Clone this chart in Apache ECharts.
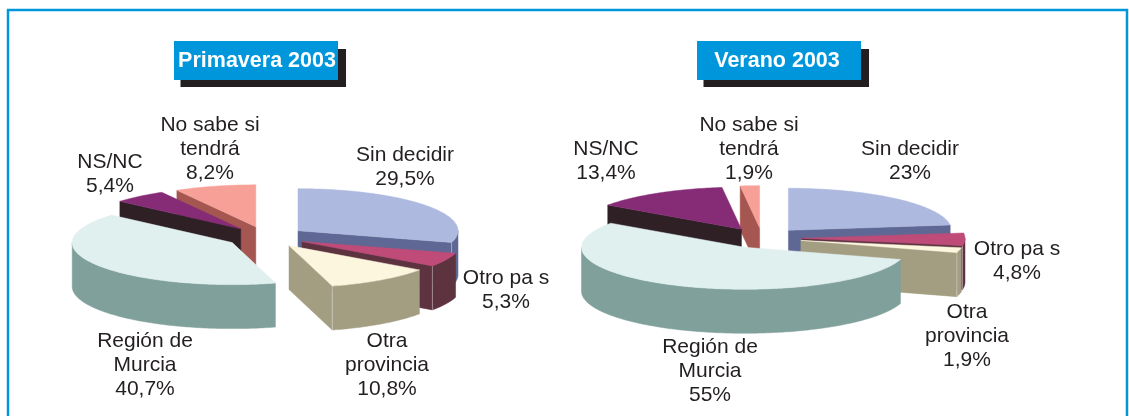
<!DOCTYPE html>
<html>
<head>
<meta charset="utf-8">
<style>html,body{margin:0;padding:0;background:#fff}#chart{width:1129px;height:416px}</style>
<script src="https://cdn.jsdelivr.net/npm/echarts@6/dist/echarts.min.js"></script>
</head>
<body>
<div id="chart"></div>
<script>
// slices in clockwise order starting at twelve o'clock
var categories = ['Sin decidir', 'Otro pa s', 'Otra\nprovincia', 'Región de\nMurcia', 'NS/NC', 'No sabe si\ntendrá'];
var primavera = [29.5, 5.3, 10.8, 40.7, 5.4, 8.2];
var verano = [23, 4.8, 1.9, 55, 13.4, 1.9];

var topColors = ['#adb9de', '#bf4b78', '#fdf6df', '#e0f0ee', '#862c76', '#f7a097'];
var wallColors = ['#5f6894', '#5c333f', '#a39d81', '#80a09c', '#2f2026', '#a65650'];
// painter's order for the slices, back first
var drawOrder = [2, 3, 4, 5, 1, 0];

var pies = [
    {
        name: 'Primavera 2003', values: primavera,
        cx: 266, cy: 237, rx: 160, ry: 42, depth: 44, explode: 40,
        box: [174, 41, 164, 39], titleX: 257,
        labels: [[405, 155], [506, 278], [387, 341], [145, 341], [110, 162], [210, 125]]
    },
    {
        name: 'Verano 2003', values: verano,
        cx: 762, cy: 238, rx: 163, ry: 42, depth: 44, explode: 40,
        box: [697, 41, 164, 39], titleX: 777,
        labels: [[910, 149], [1017, 249], [967, 312], [710, 347], [606, 149], [749, 125]]
    }
];

function labelText(i, values) {
    return categories[i] + '\n' + String(values[i]).replace('.', ',') + '%';
}

function makeRenderItem(pie) {
    var total = pie.values.reduce(function (a, b) { return a + b; }, 0);
    return function (params, api) {
        var i = params.dataIndex;
        var before = 0;
        for (var k = 0; k < i; k++) before += pie.values[k];
        var a1 = before / total * 360;
        var a2 = (before + api.value(0)) / total * 360;
        var mid = (a1 + a2) / 2 * Math.PI / 180;
        var ax = pie.cx + pie.explode * Math.sin(mid);
        var ay = pie.cy - pie.explode * pie.ry / pie.rx * Math.cos(mid);
        var rim = function (deg) {
            var r = deg * Math.PI / 180;
            return [ax + pie.rx * Math.sin(r), ay - pie.ry * Math.cos(r)];
        };
        var down = function (p) { return [p[0], p[1] + pie.depth]; };
        var arc = function (from, to) {
            var pts = [];
            for (var d = from; d < to; d += 1) pts.push(rim(d));
            pts.push(rim(to));
            return pts;
        };
        var base = drawOrder[i] * 10;
        var poly = function (points, fill, z) {
            return { type: 'polygon', z2: base + z, shape: { points: points }, style: { fill: fill, stroke: fill, lineWidth: 0.5 } };
        };
        var children = [];
        // cut faces that look towards the viewer
        if (Math.sin(a1 * Math.PI / 180) < -0.01) {
            children.push(poly([[ax, ay], rim(a1), down(rim(a1)), down([ax, ay])], wallColors[i], 1));
        }
        if (Math.sin(a2 * Math.PI / 180) > 0.01) {
            children.push(poly([[ax, ay], rim(a2), down(rim(a2)), down([ax, ay])], wallColors[i], 1));
        }
        // outer wall, only the front half of the ellipse shows
        var lo = Math.max(a1, 90), hi = Math.min(a2, 270);
        if (lo < hi) {
            var edge = arc(lo, hi);
            children.push(poly(edge.concat(edge.map(down).reverse()), wallColors[i], 2));
            // pale seam where wall and cut face meet
            if (a2 < 180) {
                var c = rim(a2);
                children.push({
                    type: 'line', z2: base + 2.5,
                    shape: { x1: c[0], y1: c[1], x2: c[0], y2: c[1] + pie.depth },
                    style: { stroke: 'rgba(255,255,255,0.4)', lineWidth: 1 }
                });
            }
        }
        children.push(poly([[ax, ay]].concat(arc(a1, a2)), topColors[i], 3));
        var pos = pie.labels[i];
        children.push({
            type: 'text', z2: 1000, x: pos[0], y: pos[1] - 12,
            style: {
                text: labelText(i, pie.values), fill: '#231f20', align: 'center', verticalAlign: 'top',
                font: '21px "Liberation Sans", Arial, sans-serif', lineHeight: 24
            }
        });
        return { type: 'group', children: children };
    };
}

var graphics = [
    { type: 'rect', silent: true, shape: { x: 8, y: 10, width: 1119, height: 420 }, style: { fill: 'none', stroke: '#0096dc', lineWidth: 2.5 } }
];
pies.forEach(function (pie) {
    var b = pie.box;
    graphics.push({ type: 'rect', silent: true, z: 10, shape: { x: b[0] + 6.5, y: b[1] + 8, width: b[2] + 1.5, height: b[3] - 1 }, style: { fill: '#231f20' } });
    graphics.push({ type: 'rect', silent: true, z: 11, shape: { x: b[0], y: b[1], width: b[2], height: b[3] }, style: { fill: '#0096dc' } });
    graphics.push({
        type: 'text', silent: true, z: 12, x: pie.titleX, y: b[1] + b[3] / 2 + 0.5,
        style: { text: pie.name, fill: '#fff', align: 'center', verticalAlign: 'middle', font: 'bold 21.5px "Liberation Sans", Arial, sans-serif' }
    });
});

var myChart = echarts.init(document.getElementById('chart'));
myChart.setOption({
    backgroundColor: '#fff',
    animation: false,
    graphic: graphics,
    series: pies.map(function (pie) {
        return {
            type: 'custom',
            name: pie.name,
            coordinateSystem: 'none',
            silent: true,
            data: pie.values.map(function (v) { return [v]; }),
            renderItem: makeRenderItem(pie)
        };
    })
});
</script>
</body>
</html>
